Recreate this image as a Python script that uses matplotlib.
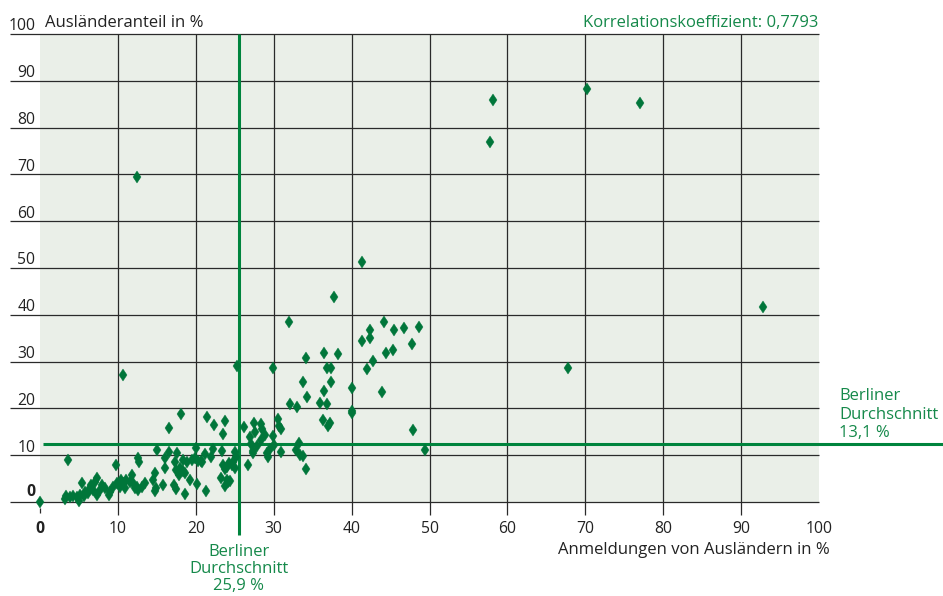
import matplotlib.pyplot as plt

plt.rcParams['font.family'] = ['Open Sans', 'DejaVu Sans']

# Anmeldungen von Ausländern in % (x) / Ausländeranteil in % (y)
anmeldungen = [
    0.0, 12.45, 58.2, 57.8, 70.2, 77.0, 92.8, 67.8, 41.3, 37.7, 10.7, 25.3, 29.9, 32.0, 49.4, 47.9,
    44.1, 42.4, 45.5, 46.7, 48.6, 41.3, 42.3, 47.8, 45.3, 44.4, 42.8, 42.0, 43.9, 40.0, 40.1, 40.0,
    36.5, 38.3, 34.2, 36.8, 37.3, 33.8, 37.4, 36.5, 34.3, 32.1, 33.0, 35.9, 36.8, 36.3, 37.2, 37.0,
    30.5, 30.7, 31.0, 33.3, 32.8, 33.4, 33.8, 30.9, 34.1,
    26.2, 27.5, 28.4, 27.6, 28.5, 28.9, 29.9, 26.9, 28.4, 27.1, 27.8, 30.0, 29.5, 29.1, 29.3, 27.3,
    27.4, 25.0, 25.2, 24.8, 24.6, 25.0, 26.7, 24.4, 24.1,
    21.4, 22.4, 23.7, 23.5, 20.0, 21.2, 22.2, 23.4, 22.0, 20.8, 20.3, 23.5, 24.3, 24.0, 23.7, 23.2,
    24.0, 23.7, 20.2, 21.3, 20.7, 19.9,
    18.1, 16.5, 15.0, 16.5, 17.6, 16.0, 17.3, 18.4, 18.9, 19.5, 17.5, 18.0, 18.3, 18.6, 17.8, 16.0,
    14.8, 14.5, 19.3, 17.2, 17.5, 18.6, 15.8, 14.9, 14.8,
    12.6, 12.7, 13.5, 13.1, 12.6, 11.8, 12.0, 12.2, 12.4, 11.6, 11.1, 10.7, 10.4, 10.3, 10.9, 9.9, 9.8,
    3.6, 3.2, 3.4, 3.85, 4.3, 4.7, 5.0, 5.1, 5.6, 5.8, 5.4, 6.2, 6.4, 6.6, 7.1, 7.3, 6.8, 7.3, 7.7,
    7.9, 8.3, 9.0, 9.4, 8.8,
]
auslaenderanteil = [
    0.0, 69.4, 85.9, 76.9, 88.2, 85.3, 41.7, 28.6, 51.3, 43.8, 27.1, 29.0, 28.6, 38.5, 11.2, 15.3,
    38.4, 36.8, 36.7, 37.2, 37.4, 34.5, 35.0, 33.8, 32.5, 31.8, 30.1, 28.4, 23.6, 24.4, 19.5, 19.0,
    31.8, 31.6, 30.8, 28.7, 28.6, 25.6, 25.6, 23.7, 22.5, 21.0, 20.3, 21.1, 20.9, 17.6, 16.8, 16.3,
    17.7, 16.3, 15.7, 12.6, 11.1, 10.0, 9.8, 10.7, 7.0,
    16.1, 16.8, 16.7, 15.0, 15.5, 14.3, 14.0, 13.8, 13.3, 12.4, 12.0, 12.2, 11.4, 10.4, 9.7, 11.0,
    10.4, 10.7, 9.7, 8.6, 7.8, 7.2, 7.8, 4.5, 4.3,
    18.2, 16.5, 17.4, 14.6, 11.5, 10.2, 11.3, 10.8, 9.6, 8.6, 8.8, 7.9, 8.3, 7.5, 7.0, 5.1,
    4.6, 3.4, 3.8, 2.4, 8.7, 9.4,
    18.9, 15.9, 11.2, 10.7, 10.5, 9.5, 8.6, 9.0, 8.6, 8.9, 6.8, 7.3, 6.6, 6.1, 5.8, 7.2,
    6.2, 4.8, 4.6, 3.6, 2.8, 1.8, 3.6, 2.9, 2.3,
    9.3, 8.6, 4.0, 3.3, 2.6, 5.8, 4.0, 2.9, 3.3, 4.3, 4.7, 4.0, 4.7, 3.3, 2.9, 4.0, 8.0,
    9.0, 0.6, 1.3, 1.1, 1.3, 1.0, 0.3, 1.5, 1.3, 2.2, 4.0, 1.9, 2.9, 3.6, 4.3, 5.2, 2.6, 1.5, 2.6,
    3.6, 2.9, 2.2, 3.3, 1.5,
]

ticks = [0, 10, 20, 30, 40, 50, 60, 70, 80, 90, 100]
# Lage der Durchschnittslinien im Bild / Beschriftung
avg_x, avg_x_label = 25.5, '25,9 %'
avg_y, avg_y_label = 12.4, '13,1 %'
korrelation = '0,7793'

green_line = '#00843D'
green_mark = '#00763A'
green_text = '#15894A'
grid_col = '#2a2a2a'

fig = plt.figure(figsize=(9.43, 5.96), dpi=100)
ax = fig.add_axes([40 / 943, 94 / 596, 779 / 943, 468 / 596])
ax.set_xlim(0, 100)
ax.set_ylim(0, 100)
ax.set_facecolor('#EAEFE8')
for s in ax.spines.values():
    s.set_visible(False)
ax.set_xticks([])
ax.set_yticks([])

# Gitter
ax.hlines(ticks, -3.85, 100, colors=grid_col, lw=0.9, clip_on=False, zorder=1)
ax.vlines(ticks[1:-1], -2.8, 100, colors=grid_col, lw=0.9, clip_on=False, zorder=1)
ax.vlines([0], -2.4, -1.3, colors=grid_col, lw=0.9, clip_on=False, zorder=1)

# Durchschnitt
ax.vlines([avg_x], -7.05, 100, colors=green_line, lw=2.2, clip_on=False, zorder=2)
ax.hlines([avg_y], 0.4, 115.9, colors=green_line, lw=2.2, clip_on=False, zorder=2)

ax.plot(anmeldungen, auslaenderanteil, linestyle='none', marker='d', ms=6.2,
        mfc=green_mark, mec=green_mark, mew=0.3, zorder=3, clip_on=False)

fs = 12
fn = 11.3
for t in ticks[1:]:
    ax.text(-0.6, t + 0.75, str(t), ha='right', va='baseline', fontsize=fn, color='#222222')
ax.text(-0.6, 1.3, '0', ha='right', va='baseline', fontsize=fn, fontweight='bold', color='#222222')
ax.text(0.64, 101.6, 'Ausländeranteil in %', ha='left', va='baseline', fontsize=fs, color='#222222')

for t in ticks:
    ax.text(t, -6.6, str(t), ha='center', va='baseline', fontsize=fn,
            fontweight='bold' if t == 0 else 'normal', color='#222222')
ax.text(101.4, -11.1, 'Anmeldungen von Ausländern in %', ha='right', va='baseline',
        fontsize=fs, color='#222222')

ax.text(99.9, 101.6, 'Korrelationskoeffizient: ' + korrelation, ha='right', va='baseline',
        fontsize=fs, color=green_text)

for i, line in enumerate(['Berliner', 'Durchschnitt', avg_x_label]):
    ax.text(avg_x, -11.6 - i * 3.65, line, ha='center', va='baseline', fontsize=fs, color=green_text)
for i, line in enumerate(['Berliner', 'Durchschnitt', avg_y_label]):
    ax.text(102.6, 21.8 - i * 4.0, line, ha='left', va='baseline', fontsize=fs, color=green_text)

fig.savefig('out.png', dpi=100)
